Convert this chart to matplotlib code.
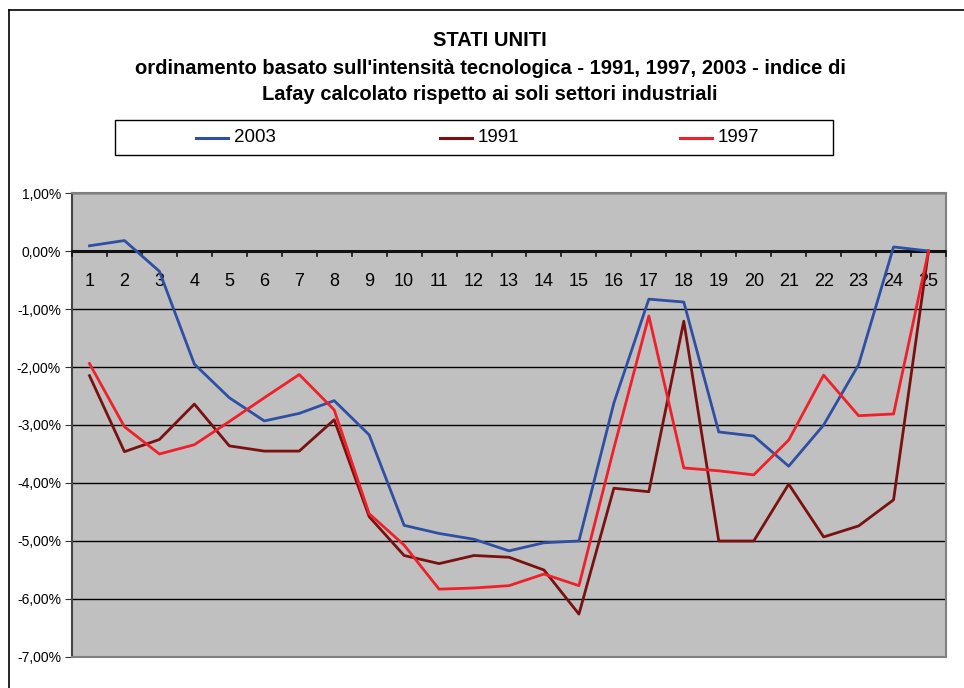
import matplotlib
matplotlib.use("Agg")
import matplotlib.pyplot as plt
from matplotlib.ticker import FuncFormatter, FixedLocator
from matplotlib.patches import Rectangle
from matplotlib.lines import Line2D

plt.rcParams['font.family'] = ['Liberation Sans', 'DejaVu Sans']

categories = list(range(1, 26))
series_2003 = [0.09, 0.18, -0.35, -1.95, -2.53, -2.93, -2.80, -2.58, -3.17, -4.73,
               -4.87, -4.97, -5.17, -5.03, -5.00, -2.62, -0.83, -0.88, -3.12, -3.19,
               -3.71, -3.00, -1.96, 0.07, 0.00]
series_1991 = [-2.15, -3.46, -3.25, -2.64, -3.36, -3.45, -3.45, -2.91, -4.58, -5.25,
               -5.39, -5.25, -5.28, -5.50, -6.26, -4.09, -4.15, -1.21, -5.00, -5.00,
               -4.02, -4.93, -4.74, -4.29, 0.00]
series_1997 = [-1.94, -3.03, -3.50, -3.34, -2.94, -2.53, -2.13, -2.74, -4.53, -5.07,
               -5.83, -5.81, -5.77, -5.57, -5.77, -3.40, -1.12, -3.74, -3.79, -3.86,
               -3.26, -2.14, -2.84, -2.81, 0.00]
y_ticks = [1, 0, -1, -2, -3, -4, -5, -6, -7]
legend_labels = ['2003', '1991', '1997']

title_lines = ["STATI UNITI",
               "ordinamento basato sull'intensità tecnologica - 1991, 1997, 2003 - indice di",
               "Lafay calcolato rispetto ai soli settori industriali"]

fig = plt.figure(figsize=(9.64, 6.88), dpi=100)
W, H = 964, 688

def fx(px):
    return px / W

def fy(py):
    return 1 - py / H

# outer chart frame
fig.add_artist(Line2D([fx(9), fx(9)], [0, fy(10)], color='black', lw=1.2, transform=fig.transFigure))
fig.add_artist(Line2D([fx(9), 1], [fy(10), fy(10)], color='black', lw=1.2, transform=fig.transFigure))

ax = fig.add_axes([fx(72), fy(657), (946 - 72) / W, (657 - 193) / H])
ax.set_facecolor('#C0C0C0')

colors = ['#2E4FA3', '#7B1010', '#F0202A']
x = [c - 1 for c in categories]
l1, = ax.plot(x, series_2003, color=colors[0], lw=2, zorder=4)
l2, = ax.plot(x, series_1991, color=colors[1], lw=2, zorder=4)
l3, = ax.plot(x, series_1997, color=colors[2], lw=2, zorder=5)

ax.set_xlim(-0.5, len(categories) - 0.5)
ax.set_ylim(-7, 1)
ax.yaxis.set_major_locator(FixedLocator(y_ticks))
ax.yaxis.set_major_formatter(FuncFormatter(lambda v, p: f"{v:.2f}%".replace('.', ',')))
ax.tick_params(axis='y', labelsize=10, length=5, direction='out', color='#333333', pad=3)
ax.grid(axis='y', color='black', lw=1)
ax.set_axisbelow(True)

# x axis at zero
ax.axhline(0, color='#111111', lw=2.2, zorder=3)
ax.set_xticks([])
for b in range(len(categories) + 1):
    ax.plot([b - 0.5, b - 0.5], [0, -0.09], color='#111111', lw=1.2, zorder=3, clip_on=False)
for c, xi in zip(categories, x):
    ax.text(xi, -0.52, str(c), ha='center', va='center', fontsize=13, color='black', zorder=3)

for s in ['top', 'right', 'bottom']:
    ax.spines[s].set_color('#808080')
    ax.spines[s].set_linewidth(1.5)
ax.spines['left'].set_color('#444444')
ax.spines['left'].set_linewidth(1.5)

for line, ypx in zip(title_lines, [40, 68, 95]):
    fig.text(fx(490), fy(ypx), line, ha='center', va='center', fontsize=14.5, fontweight='bold')

# legend box (drawn manually to match the Excel layout)
lx0, ly0, lx1, ly1 = 115, 120, 833, 155
fig.add_artist(Rectangle((fx(lx0), fy(ly1)), (lx1 - lx0) / W, (ly1 - ly0) / H,
                         transform=fig.transFigure, fill=False, edgecolor='black', lw=1))
for lab, col, hx in zip(legend_labels, colors, [196, 440, 680]):
    fig.add_artist(Line2D([fx(hx), fx(hx + 32)], [fy(137.5), fy(137.5)], color=col, lw=2.2,
                          transform=fig.transFigure))
    fig.text(fx(hx + 38), fy(137.5), lab, ha='left', va='center', fontsize=13.5)

fig.savefig('out.png', dpi=100)
